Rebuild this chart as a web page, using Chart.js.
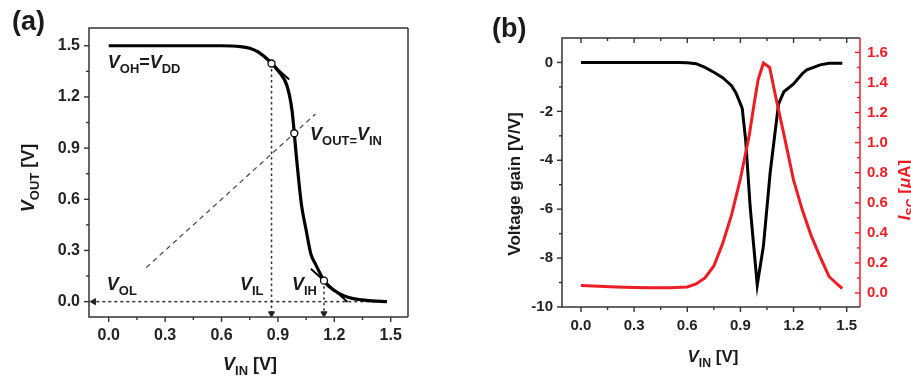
<!DOCTYPE html>
<html>
<head>
<meta charset="utf-8">
<script src="https://cdn.jsdelivr.net/npm/chart.js@4/dist/chart.umd.min.js"></script>
<style>
  body { margin: 0; background: #fff; }
  #wrap { position: relative; width: 911px; height: 381px; overflow: hidden; }
  canvas { position: absolute; top: 0; }
  #ca { left: 0; }
  #cb { left: 460px; }
</style>
</head>
<body>
<div id="wrap">
  <canvas id="ca" width="460" height="381"></canvas>
  <canvas id="cb" width="451" height="381"></canvas>
</div>
<script>
// panel (a): inverter transfer curve
const vtcIn  = [0, 0.6, 0.7, 0.75, 0.8, 0.85, 0.9, 0.95, 0.975, 1.0, 1.025, 1.05, 1.075, 1.1, 1.15, 1.2, 1.25, 1.3, 1.35, 1.4, 1.48];
const vtcOut = [1.5, 1.5, 1.495, 1.485, 1.46, 1.415, 1.355, 1.26, 1.12, 0.83, 0.57, 0.42, 0.28, 0.22, 0.115, 0.065, 0.035, 0.018, 0.01, 0.005, 0.0];
const unityIn = [0.2, 1.1];
const unityOut = [0.2, 1.1];
const tanHighIn = [0.79, 0.96];
const tanHighOut = [1.472, 1.302];
const tanLowIn = [1.075, 1.27];
const tanLowOut = [0.193, -0.002];
const pointIn = [0.866, 0.987, 1.145];   // V_IL, V_M, V_IH
const pointOut = [1.396, 0.987, 0.123];
const vilDropX = [0.866, 0.866];
const vilDropY = [1.396, -0.06];
const vihDropX = [1.145, 1.145];
const vihDropY = [0.123, -0.06];
const volLineX = [1.45, -0.07];
const volLineY = [0, 0];
const arrowX = [0.866, 1.145, -0.08];
const arrowY = [-0.07, -0.07, 0];
const aTicksX = [0, 0.3, 0.6, 0.9, 1.2, 1.5];
const aTicksY = [0, 0.3, 0.6, 0.9, 1.2, 1.5];

// panel (b): gain and short-circuit current
const gainIn = [0, 0.55, 0.6, 0.65, 0.7, 0.75, 0.8, 0.85, 0.875, 0.91, 0.93, 0.955, 0.995, 1.03, 1.068, 1.115, 1.145, 1.2, 1.25, 1.275, 1.35, 1.4, 1.475];
const gain   = [0, 0, -0.01, -0.05, -0.2, -0.4, -0.62, -0.95, -1.25, -1.87, -3.2, -5.9, -9.1, -7.5, -4.5, -1.7, -1.2, -0.88, -0.45, -0.3, -0.1, -0.03, -0.03];
const iscIn = [0, 0.1, 0.2, 0.3, 0.4, 0.5, 0.6, 0.65, 0.7, 0.75, 0.8, 0.85, 0.9, 0.95, 0.975, 1.0, 1.03, 1.065, 1.1, 1.15, 1.2, 1.25, 1.3, 1.35, 1.4, 1.45, 1.475];
const isc   = [0.05, 0.045, 0.04, 0.037, 0.035, 0.035, 0.04, 0.06, 0.1, 0.18, 0.33, 0.52, 0.76, 1.05, 1.24, 1.42, 1.53, 1.5, 1.3, 1.03, 0.75, 0.55, 0.38, 0.24, 0.11, 0.055, 0.03];
const bTicksX = [0, 0.3, 0.6, 0.9, 1.2, 1.5];
const bTicksGain = [-10, -8, -6, -4, -2, 0];
const bTicksIsc = [0, 0.2, 0.4, 0.6, 0.8, 1.0, 1.2, 1.4, 1.6];

const FAMILY = "'Liberation Sans', Arial, sans-serif";
Chart.defaults.font.family = FAMILY;

const pts = (xs, ys) => xs.map((x, i) => ({x: x, y: ys[i]}));

function drawRich(ctx, parts, x, y, size, color, rot, align) {
  ctx.save();
  ctx.translate(x, y);
  if (rot) ctx.rotate(rot);
  const runs = parts.map(([txt, st]) => {
    const sub = st.includes('s');
    const fs = sub ? size * 0.72 : size;
    return {txt, sub, font: (st.includes('i') ? 'italic ' : '') + 'bold ' + fs + 'px ' + FAMILY};
  });
  let w = 0;
  runs.forEach(r => { ctx.font = r.font; r.w = ctx.measureText(r.txt).width; w += r.w; });
  let cx = align === 'center' ? -w / 2 : 0;
  ctx.fillStyle = color;
  ctx.textBaseline = 'alphabetic';
  ctx.textAlign = 'left';
  runs.forEach(r => {
    ctx.font = r.font;
    ctx.fillText(r.txt, cx, r.sub ? size * 0.3 : 0);
    cx += r.w;
  });
  ctx.restore();
}

// box, inner/outer tick marks and rich-text labels
const framePlugin = {
  id: 'frame',
  afterDatasetsDraw(chart, args, o) {
    const {ctx, chartArea: a, scales} = chart;
    ctx.save();
    ctx.lineWidth = 1.4;
    for (const t of o.ticks) {
      const s = scales[t.scale];
      const minors = t.values.slice(1).map((v, i) => (v + t.values[i]) / 2);
      ctx.strokeStyle = t.color;
      const mark = (v, len) => {
        const p = s.getPixelForValue(v);
        const sign = t.dir === 'out' ? 1 : -1;
        ctx.beginPath();
        if (t.side === 'bottom') { ctx.moveTo(p, a.bottom); ctx.lineTo(p, a.bottom + sign * len); }
        if (t.side === 'top') { ctx.moveTo(p, a.top); ctx.lineTo(p, a.top - sign * len); }
        if (t.side === 'left') { ctx.moveTo(a.left, p); ctx.lineTo(a.left - sign * len, p); }
        if (t.side === 'right') { ctx.moveTo(a.right, p); ctx.lineTo(a.right + sign * len, p); }
        ctx.stroke();
      };
      t.values.forEach(v => mark(v, 5));
      minors.forEach(v => mark(v, 3));
    }
    ctx.lineWidth = 1.5;
    ctx.strokeStyle = '#333';
    ctx.beginPath();
    ctx.moveTo(a.right, a.top); ctx.lineTo(a.left, a.top); ctx.lineTo(a.left, a.bottom); ctx.lineTo(a.right, a.bottom);
    ctx.stroke();
    ctx.strokeStyle = o.rightColor;
    ctx.beginPath(); ctx.moveTo(a.right, a.top); ctx.lineTo(a.right, a.bottom); ctx.stroke();
    ctx.restore();

    for (const l of o.notes || []) {
      const px = scales.x.getPixelForValue(l.at[0]);
      const py = scales.y.getPixelForValue(l.at[1]);
      drawRich(ctx, l.parts, px, py, 18, '#1a1a1a', 0, 'left');
    }
    for (const l of o.titles) {
      drawRich(ctx, l.parts, l.x, l.y, l.size, l.color, l.rot, l.align);
    }
  }
};

function axis(opts) {
  return Object.assign({
    type: 'linear',
    grid: {display: false, drawTicks: false},
    border: {display: false},
  }, opts);
}

const tickFont = size => ({size: size, weight: 'bold', family: FAMILY});

new Chart(document.getElementById('ca'), {
  type: 'scatter',
  data: {
    datasets: [
      {data: pts(pointIn, pointOut), pointRadius: 3.5, pointBackgroundColor: '#fff', pointBorderColor: '#000', pointBorderWidth: 1.3},
      {data: pts(arrowX, arrowY), pointStyle: 'triangle', pointRotation: [180, 180, 270], pointRadius: 3.5, pointBackgroundColor: '#222', pointBorderColor: '#222', pointBorderWidth: 1},
      {data: pts(tanHighIn, tanHighOut), showLine: true, borderColor: '#000', borderWidth: 1.8, pointRadius: 0},
      {data: pts(tanLowIn, tanLowOut), showLine: true, borderColor: '#000', borderWidth: 1.8, pointRadius: 0},
      {data: pts(vtcIn, vtcOut), showLine: true, borderColor: '#000', borderWidth: 3.2, pointRadius: 0, cubicInterpolationMode: 'monotone'},
      {data: pts(unityIn, unityOut), showLine: true, borderColor: '#444', borderWidth: 1.2, borderDash: [5, 4], pointRadius: 0},
      {data: pts(vilDropX, vilDropY), showLine: true, borderColor: '#333', borderWidth: 1.5, borderDash: [2.5, 3], pointRadius: 0},
      {data: pts(vihDropX, vihDropY), showLine: true, borderColor: '#333', borderWidth: 1.5, borderDash: [2.5, 3], pointRadius: 0},
      {data: pts(volLineX, volLineY), showLine: true, borderColor: '#333', borderWidth: 1.5, borderDash: [3, 3], pointRadius: 0}
    ]
  },
  options: {
    responsive: false,
    animation: false,
    layout: {padding: {top: 28, right: 52, left: 0, bottom: 0}},
    plugins: {
      legend: {display: false},
      tooltip: {enabled: false},
      frame: {
        rightColor: '#333',
        ticks: [
          {scale: 'x', side: 'bottom', dir: 'out', values: aTicksX, color: '#333'},
          {scale: 'y', side: 'left', dir: 'out', values: aTicksY, color: '#333'}
        ],
        notes: [
          {at: [-0.005, 1.369], parts: [['V', 'i'], ['OH', 's'], ['=', 'n'], ['V', 'i'], ['DD', 's']]},
          {at: [1.071, 0.947], parts: [['V', 'i'], ['OUT=', 's'], ['V', 'i'], ['IN', 's']]},
          {at: [-0.01, 0.069], parts: [['V', 'i'], ['OL', 's']]},
          {at: [0.698, 0.069], parts: [['V', 'i'], ['IL', 's']]},
          {at: [0.975, 0.069], parts: [['V', 'i'], ['IH', 's']]}
        ],
        titles: [
          {parts: [['(a)', 'n']], x: 12, y: 30, size: 27, color: '#1a1a1a', align: 'left'},
          {parts: [['V', 'i'], ['IN', 's'], [' [V]', 'n']], x: 250, y: 370, size: 18, color: '#1a1a1a', align: 'center'},
          {parts: [['V', 'i'], ['OUT', 's'], [' [V]', 'n']], x: 34, y: 178, size: 18, color: '#1a1a1a', rot: -Math.PI / 2, align: 'center'}
        ]
      }
    },
    scales: {
      x: axis({
        min: -0.105, max: 1.592,
        afterBuildTicks: s => { s.ticks = aTicksX.map(v => ({value: v})); },
        afterFit: s => { s.height = 64; },
        ticks: {padding: 9, color: '#222', font: tickFont(16), maxRotation: 0, autoSkip: false, callback: v => v.toFixed(1)}
      }),
      y: axis({
        min: -0.09, max: 1.604,
        afterBuildTicks: s => { s.ticks = aTicksY.map(v => ({value: v})); },
        afterFit: s => { s.width = 89; },
        ticks: {padding: 9, color: '#222', font: tickFont(16), autoSkip: false, callback: v => v.toFixed(1)}
      })
    }
  },
  plugins: [framePlugin]
});

const RED = '#ee1c24';
new Chart(document.getElementById('cb'), {
  type: 'scatter',
  data: {
    datasets: [
      {data: pts(iscIn, isc), yAxisID: 'y2', showLine: true, borderColor: RED, borderWidth: 3, pointRadius: 0},
      {data: pts(gainIn, gain), yAxisID: 'y', showLine: true, borderColor: '#000', borderWidth: 3, pointRadius: 0}
    ]
  },
  options: {
    responsive: false,
    animation: false,
    layout: {padding: {top: 38, right: 0, left: 0, bottom: 0}},
    plugins: {
      legend: {display: false},
      tooltip: {enabled: false},
      frame: {
        rightColor: RED,
        ticks: [
          {scale: 'x', side: 'bottom', dir: 'out', values: bTicksX, color: '#333'},
          {scale: 'x', side: 'top', dir: 'in', values: bTicksX, color: '#333'},
          {scale: 'y', side: 'left', dir: 'out', values: bTicksGain, color: '#333'},
          {scale: 'y2', side: 'right', dir: 'in', values: bTicksIsc, color: RED}
        ],
        titles: [
          {parts: [['(b)', 'n']], x: 32, y: 37, size: 27, color: '#1a1a1a', align: 'left'},
          {parts: [['V', 'i'], ['IN', 's'], [' [V]', 'n']], x: 253, y: 362, size: 17, color: '#1a1a1a', align: 'center'},
          {parts: [['Voltage gain [V/V]', 'n']], x: 60, y: 184, size: 17, color: '#1a1a1a', rot: -Math.PI / 2, align: 'center'},
          {parts: [['I', 'i'], ['SC', 's'], [' [', 'n'], ['\u03bc', 'i'], ['A]', 'n']], x: 450, y: 190, size: 17, color: RED, rot: -Math.PI / 2, align: 'center'}
        ]
      }
    },
    scales: {
      x: axis({
        min: -0.107, max: 1.575,
        afterBuildTicks: s => { s.ticks = bTicksX.map(v => ({value: v})); },
        afterFit: s => { s.height = 74; },
        ticks: {padding: 10, color: '#222', font: tickFont(15), maxRotation: 0, autoSkip: false, callback: v => v.toFixed(1)}
      }),
      y: axis({
        position: 'left',
        min: -10, max: 1,
        afterBuildTicks: s => { s.ticks = bTicksGain.map(v => ({value: v})); },
        afterFit: s => { s.width = 102; },
        ticks: {padding: 9, color: '#222', font: tickFont(15), autoSkip: false, callback: v => v.toFixed(0)}
      }),
      y2: axis({
        position: 'right',
        min: -0.093, max: 1.696,
        afterBuildTicks: s => { s.ticks = bTicksIsc.map(v => ({value: v})); },
        afterFit: s => { s.width = 51; },
        ticks: {padding: 7, color: RED, font: tickFont(15), autoSkip: false, callback: v => v.toFixed(1)}
      })
    }
  },
  plugins: [framePlugin]
});
</script>
</body>
</html>
